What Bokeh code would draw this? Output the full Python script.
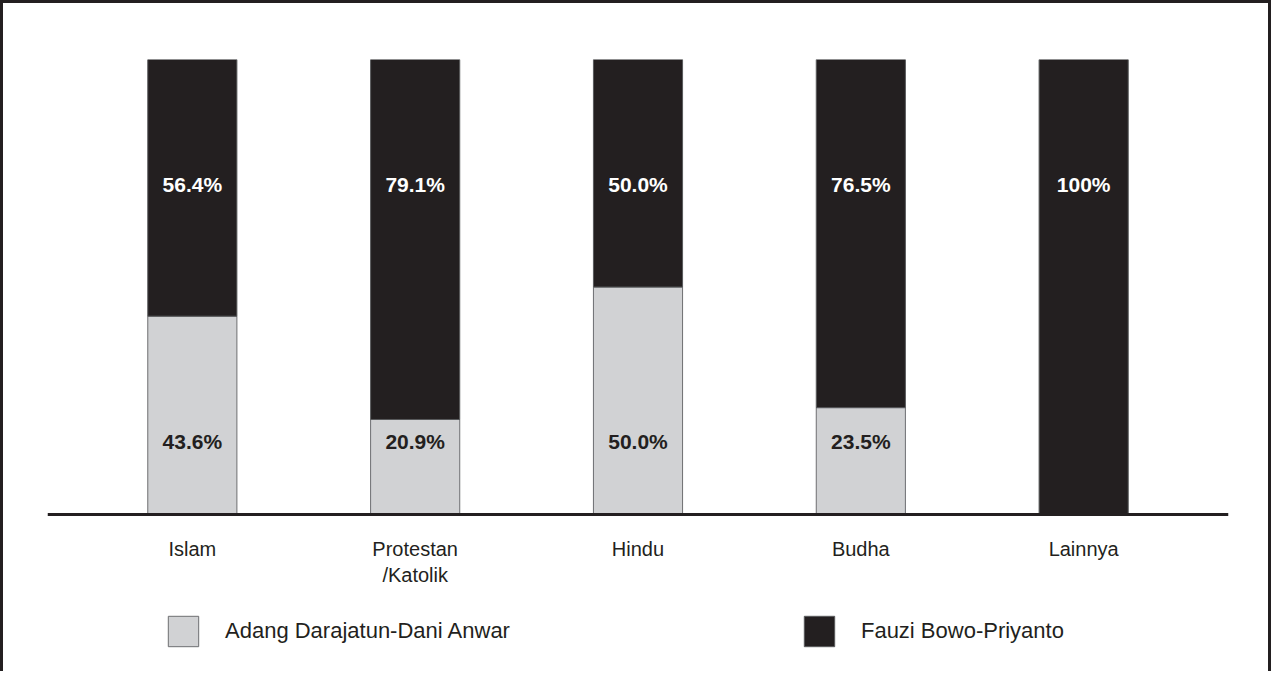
from bokeh.plotting import figure
from bokeh.models import ColumnDataSource, FactorRange, Range1d
from bokeh.core.properties import value
from bokeh.embed import file_html
from bokeh.resources import INLINE

categories = ["Islam", "Protestan\n/Katolik", "Hindu", "Budha", "Lainnya"]
adang = [43.6, 20.9, 50.0, 23.5, 0.0]
fauzi = [56.4, 79.1, 50.0, 76.5, 100.0]
series_names = ["Adang Darajatun-Dani Anwar", "Fauzi Bowo-Priyanto"]

GRAY = "#d1d2d4"
BLACK = "#231f20"
FONT = "Liberation Sans"


def fmt(v):
    return "100%" if v == 100 else f"{v:.1f}%"


src = ColumnDataSource(dict(cat=categories, adang=adang, fauzi=fauzi))

p = figure(
    x_range=FactorRange(factors=categories, range_padding=0.15, range_padding_units="absolute"),
    y_range=Range1d(-32.5, 100),
    frame_width=1181, frame_height=603,
    output_backend="svg", toolbar_location=None,
    y_axis_location=None,
    min_border_left=44, min_border_right=40, min_border_top=56, min_border_bottom=9,
    outline_line_color=None,
)
p.styles = {
    "border-top": f"3px solid {BLACK}",
    "border-left": f"3px solid {BLACK}",
    "border-right": f"3px solid {BLACK}",
}

p.vbar_stack(["adang", "fauzi"], x="cat", width=0.40, source=src,
             fill_color=[GRAY, BLACK], line_color=["#6d6e71", "#58595b"], line_width=1,
             legend_label=series_names)

# labels
lo = [(c, fmt(a)) for c, a in zip(categories, adang) if a > 0]
hi = [(c, fmt(f)) for c, f in zip(categories, fauzi) if f > 0]
p.text(x=[c for c, _ in lo], y=[16] * len(lo), text=[t for _, t in lo],
       text_align="center", text_baseline="middle", text_color=BLACK,
       text_font=value(FONT), text_font_style="bold", text_font_size="21px")
p.text(x=[c for c, _ in hi], y=[72.5] * len(hi), text=[t for _, t in hi],
       text_align="center", text_baseline="middle", text_color="white",
       text_font=value(FONT), text_font_style="bold", text_font_size="21px")

p.xgrid.visible = False
p.ygrid.visible = False
ax = p.xaxis[0]
ax.fixed_location = 0
ax.axis_line_color = BLACK
ax.axis_line_width = 3
ax.major_tick_line_color = None
ax.minor_tick_line_color = None
ax.major_tick_out = 0
ax.major_tick_in = 0
ax.major_label_standoff = 23
ax.major_label_text_font = FONT
ax.major_label_text_font_size = "20px"
ax.major_label_text_color = BLACK

lg = p.legend[0]
lg.orientation = "horizontal"
lg.location = (117, 12)
lg.margin = 0
lg.padding = 0
lg.border_line_color = None
lg.background_fill_alpha = 0
lg.glyph_width = 38
lg.glyph_height = 38
lg.label_height = 38
lg.label_standoff = 23
lg.spacing = 290
lg.label_text_font = FONT
lg.label_text_font_size = "22px"
lg.label_text_color = BLACK

open("out.html", "w").write(file_html(p, INLINE))
